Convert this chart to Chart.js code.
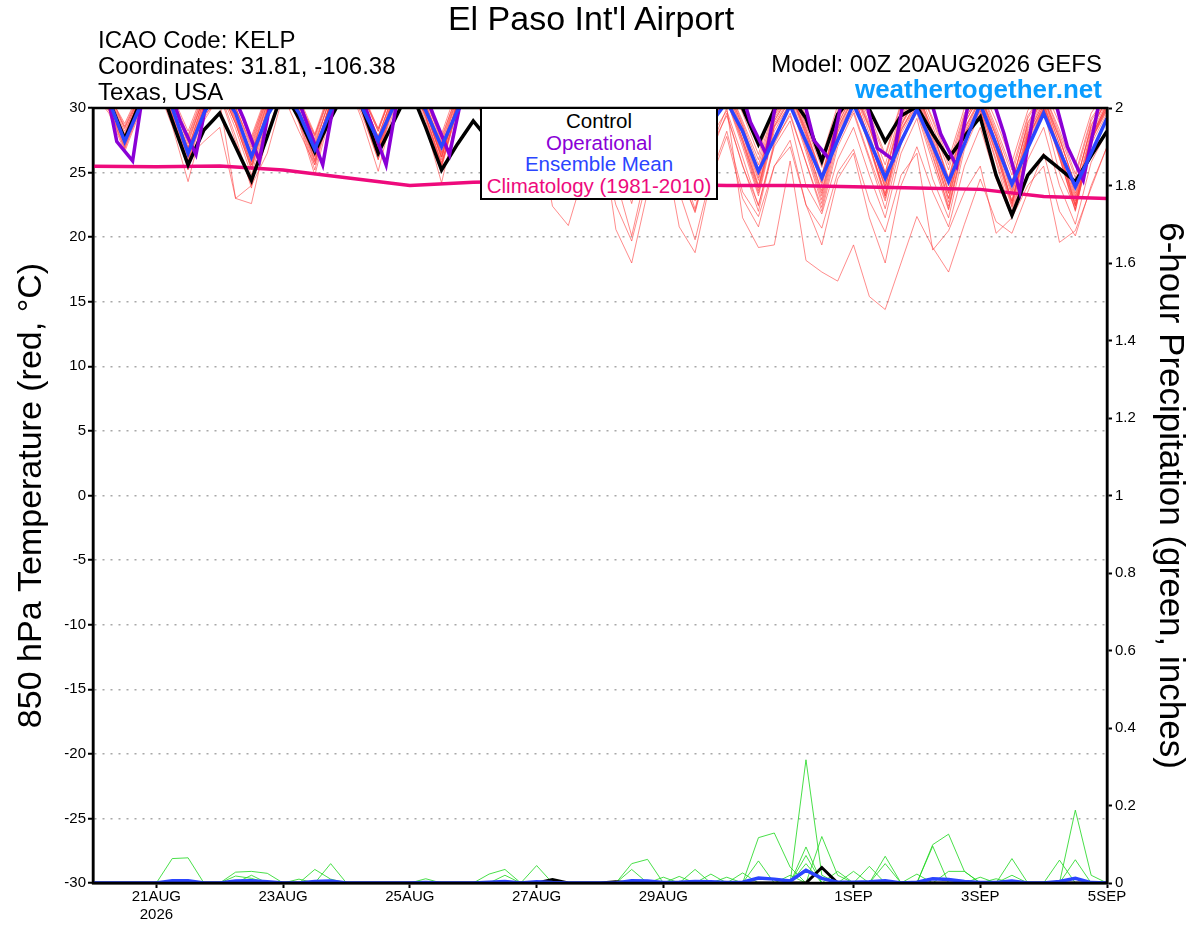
<!DOCTYPE html>
<html>
<head>
<meta charset="utf-8">
<script src="https://cdn.jsdelivr.net/npm/chart.js@4.4.1/dist/chart.umd.min.js"></script>
<style>
  html, body { margin: 0; padding: 0; background: #fff; }
  #wrap { position: relative; width: 1200px; height: 927px; overflow: hidden; font-family: "Liberation Sans", Arial, sans-serif; }
  #chart { position: absolute; left: 0; top: 0; }
  .txt { position: absolute; white-space: nowrap; line-height: 1; color: #000; }
  #legendBox { position: absolute; left: 480px; top: 107px; width: 234px; height: 88px; background: #fff;
    border: 2px solid #000; text-align: center; font-size: 20.5px; line-height: 21.5px; padding-top: 1px; }
</style>
</head>
<body>
<div id="wrap">
  <canvas id="chart" width="1200" height="927"></canvas>
  <div class="txt" style="left:0;width:1182px;text-align:center;top:1px;font-size:34px;">El Paso Int'l Airport</div>
  <div class="txt" style="left:98px;top:28px;font-size:24px;">ICAO Code: KELP</div>
  <div class="txt" style="left:98px;top:54px;font-size:24px;">Coordinates: 31.81, -106.38</div>
  <div class="txt" style="left:98px;top:80px;font-size:24px;">Texas, USA</div>
  <div class="txt" style="right:98px;top:52px;font-size:24px;">Model: 00Z 20AUG2026 GEFS</div>
  <div class="txt" style="right:98px;top:76px;font-size:26px;font-weight:bold;color:#0a9cff;">weathertogether.net</div>
  <div id="legendBox">
    <div style="color:#000">Control</div>
    <div style="color:#8a00d6">Operational</div>
    <div style="color:#2b45ff">Ensemble Mean</div>
    <div style="color:#ee0a7c">Climatology (1981-2010)</div>
  </div>
</div>
<script>
// time axis: hours after 00Z 20AUG2026, one point every 6 hours
const hours = Array.from({ length: 65 }, (_, i) => i * 6);
const opHours = hours.map(h => h + 3);
const climHours = Array.from({ length: 17 }, (_, i) => i * 24);

const tickHours = [24, 72, 120, 168, 216, 288, 336, 384];
const tickLabels = [['21AUG', '2026'], '23AUG', '25AUG', '27AUG', '29AUG', '1SEP', '3SEP', '5SEP'];

// 850 hPa temperature (C)
const control = [32, 30.6, 27.6, 30.5, 32.5, 29.0, 25.6, 28.3, 29.6, 27.0, 24.4, 27.8, 31.4,
  29.2, 26.6, 29.2, 31.5, 30.0, 26.5, 29.0, 31.5, 28.5, 25.2, 27.2, 29.0, 27.5,
  26.0, 28.6, 30.5, 29.0, 26.2, 29.2, 31.0, 28.8, 25.8, 29.0, 31.0, 29.4, 26.4,
  29.6, 31.2, 30.0, 27.2, 29.9, 31.0, 29.2, 25.9, 29.5, 31.0, 29.9, 27.4, 29.4,
  30.1, 28.0, 26.1, 27.8, 29.3, 24.8, 21.7, 24.8, 26.3, 25.3, 24.3, 26.3, 28.2];

const operational = [33.6, 27.4, 25.9, 34.0, 32.5, 29.0, 26.4, 32.5, 32.0, 29.2, 25.9, 32.4, 32.2,
  28.8, 25.6, 32.5, 32.4, 29.0, 25.6, 32.8, 32.6, 29.4, 26.4, 32.2, 32.0, 29.0,
  26.2, 32.0, 31.8, 28.6, 25.8, 31.8, 31.6, 28.6, 25.8, 31.6, 31.6, 28.8, 26.2,
  32.0, 33.0, 28.9, 26.4, 33.0, 32.4, 27.5, 26.0, 32.0, 32.0, 26.9, 26.0, 33.0,
  32.2, 28.0, 25.5, 32.0, 31.8, 28.0, 23.5, 30.5, 31.6, 27.0, 24.4, 30.4, 31.8];

const ensMean = [32.0, 30.6, 27.4, 30.2, 32.2, 30.0, 26.5, 29.6, 31.6, 29.6, 26.2, 29.4, 31.5,
  29.6, 26.8, 29.8, 31.8, 30.0, 27.5, 30.2, 31.8, 29.8, 27.0, 29.8, 31.4, 29.4,
  26.5, 29.4, 31.2, 29.0, 26.0, 29.0, 30.8, 28.6, 25.5, 28.8, 30.6, 28.6, 25.5,
  28.8, 30.5, 28.2, 25.1, 27.6, 30.2, 27.4, 24.6, 27.5, 30.3, 27.5, 24.6, 27.4,
  29.9, 27.1, 24.3, 27.2, 30.3, 27.2, 24.1, 26.9, 29.6, 26.7, 23.9, 26.5, 29.2];

const climatology = [25.5, 25.45, 25.5, 25.2, 24.6, 24.0, 24.25, 24.35, 24.2,
  24.1, 24.0, 24.0, 23.9, 23.8, 23.7, 23.15, 23.0];

const member01 = [32, 30.8, 28.5, 31, 33, 30.5, 27.8, 31, 32.5, 30, 27.2, 30.8, 32.8, 30.5, 27.9, 31.2,
  33, 31, 28.4, 31.5, 33.2, 30.8, 27.8, 31, 32.5, 30.2, 27.2, 30.8, 32.6, 30, 26.8, 30.5,
  32, 29.5, 26.4, 30.2, 32, 29.5, 26.5, 30.4, 31.8, 29, 26, 30, 31.5, 28.8, 25.8, 29.8,
  31.8, 29.2, 26.2, 30.2, 32, 29, 25.6, 29.6, 31.5, 28.5, 25.2, 29.4, 31.2, 28.3, 24.9, 29.2, 31];
const member02 = [31.8, 30.4, 27.2, 30.6, 32.4, 29.8, 26.4, 30.2, 32, 29.2, 25.8, 30, 32.2, 29.8, 26.6, 30.4,
  32.8, 30.4, 27.2, 31, 32.5, 30, 26.6, 30.4, 32, 29.4, 26, 30, 31.8, 29, 25.4, 29.6,
  31.5, 28.6, 25, 29.4, 31.6, 28.5, 24.8, 29.2, 31.2, 28, 24.4, 29, 31, 27.8, 24, 28.6,
  31.4, 28, 24.2, 29, 31, 27.6, 23.6, 28.4, 30.8, 27.4, 23.4, 28.2, 30.6, 27.2, 23.2, 28, 30.5];
const member03 = [31.5, 29.8, 26.8, 30, 31.8, 28.6, 24.3, 29, 31, 27.4, 24, 29.5, 32, 29, 25.2, 30,
  32.4, 29.6, 26, 30.6, 32.2, 29.2, 25.5, 30, 31.8, 28.6, 24.8, 29.6, 31.5, 28.2, 24.6, 29.4,
  31.2, 28, 24.2, 29.2, 31, 27.8, 24, 29, 30.8, 27.4, 23.6, 28.6, 30.6, 27, 23.2, 28.2,
  30.8, 27.2, 23.4, 28.4, 30.4, 26.8, 23, 28, 30.2, 26.6, 22.8, 27.8, 30, 26.4, 22.5, 27.6, 30];
const member04 = [31.6, 30, 27, 30.4, 32, 29.5, 26.2, 27.4, 28.5, 23, 22.6, 28, 31.8, 28.8, 24.8, 29.6,
  32.2, 29, 25.1, 30, 32, 28.6, 24.2, 29.6, 31.6, 28.2, 24.4, 29.4, 31.4, 28.4, 25, 29.5,
  31.6, 28.8, 25.2, 29.8, 31.4, 28.4, 24.6, 29.4, 31, 28, 24, 29, 31.2, 28, 24.4, 29.2,
  31, 27.6, 23.8, 28.8, 30.8, 27.4, 23.4, 28.4, 30.6, 27, 22.6, 28, 30.4, 26.8, 22.4, 27.8, 30.2];
const member05 = [32, 30.5, 27.8, 30.8, 32.5, 30, 27, 29.5, 30.5, 23.0, 24, 26.5, 31, 28.2, 25.6, 30.2,
  32.6, 30, 26.4, 30.8, 32.6, 29.8, 26, 30.6, 32.2, 29.4, 25.6, 30.2, 32, 29.4, 26, 30.4,
  32.2, 29.6, 26.2, 30.4, 31.8, 29, 25.6, 30, 31.6, 28.6, 25.2, 29.6, 31.4, 28.4, 24.8, 29.4,
  31.6, 28.6, 25, 29.6, 31.4, 28.2, 24.6, 29.2, 31, 27.8, 24.2, 28.8, 30.8, 27.6, 24, 28.6, 30.6];
const member06 = [32.2, 30.6, 27.6, 31, 32.6, 30.2, 26.8, 30.6, 32.4, 29.8, 26.4, 30.4, 32.6, 30, 26.4, 30.6,
  32.8, 30.4, 27.4, 31, 32.4, 29.8, 26.2, 30.2, 31.6, 28.6, 24.8, 29, 30.4, 27, 23.6, 27.6,
  29, 20.6, 18.0, 23.5, 27.5, 20.8, 18.8, 24.5, 27.8, 23, 20.8, 25.5, 27.5, 22.5, 19.4, 24.5,
  26.5, 21.5, 18.0, 24, 27, 23.5, 20.8, 25.5, 28.5, 24.5, 21.5, 26, 28.5, 24, 21, 25.8, 28.2];
const member07 = [31.4, 29.8, 27.4, 30.2, 32, 29.6, 26.6, 30.2, 31.8, 29, 25.6, 29.8, 32, 29.4, 26, 30.2,
  32.2, 29.8, 26.6, 30.4, 32.2, 29.4, 25.8, 30, 31.2, 28, 24, 28.5, 29, 22.4, 20.9, 25,
  27.6, 22.5, 19.7, 24.6, 28, 23.5, 19.8, 24.8, 28.2, 23.5, 21.6, 25.5, 27, 22.5, 20.7, 25,
  26.8, 22.8, 20.4, 24.8, 26.5, 19.0, 20.5, 23.5, 25.5, 20.3, 21.5, 24, 25.5, 19.6, 20.5, 23.8, 27];
const member08 = [31.8, 30.2, 27.2, 30.6, 32.4, 30, 26.8, 30.4, 32.2, 29.6, 26.4, 30.2, 32.4, 29.8, 26.6, 30.4,
  32.6, 30.2, 27, 30.8, 32.4, 29.8, 26.4, 30.2, 32, 29.2, 25.6, 29.8, 31.6, 28.6, 25, 29.2,
  31, 28, 24.4, 28.6, 30.4, 25, 22, 27, 30, 21.5, 19.2, 19.4, 25.9, 18.2, 17.3, 16.6,
  19.4, 15.4, 14.4, 18, 21.6, 19.2, 17.3, 21, 24.5, 21.2, 20.3, 23.5, 26.5, 22, 20.1, 24, 27];
const member09 = [32.4, 30.8, 28, 31.2, 32.8, 30.4, 27.4, 30.8, 32.6, 30, 26.8, 30.6, 32.8, 30.2, 27.2, 30.8,
  33, 30.6, 27.8, 31.2, 32.8, 30.2, 27, 30.6, 32.4, 29.4, 25.8, 29.6, 31.6, 28, 24.2, 28.5,
  30.6, 24.5, 20.1, 25.5, 29.5, 25, 21.9, 26.5, 29.6, 25.5, 22.5, 27, 29, 24, 21.8, 26,
  28.5, 24.8, 21.5, 26.5, 29.2, 24.5, 21.5, 26.8, 29.6, 24.8, 22, 27, 29.8, 25, 22.2, 27.2, 29.6];
const member10 = [32.5, 31, 28.8, 31.4, 33.2, 31, 28.2, 31.4, 33, 30.6, 27.8, 31.2, 33.2, 30.8, 28, 31.6,
  33.4, 31.2, 28.4, 31.8, 33.4, 31, 28, 31.5, 33, 30.6, 27.6, 31.2, 33, 30.4, 27.4, 31,
  32.8, 30.2, 27, 30.8, 32.6, 30, 26.8, 30.6, 32.4, 29.6, 26.4, 30.4, 32, 29.4, 26.2, 30.2,
  32.2, 29.6, 26.4, 30.4, 32, 29.2, 26, 30, 31.8, 29, 25.8, 29.8, 31.6, 28.8, 25.6, 29.6, 31.4];
const member11 = [31.2, 29.6, 26.6, 29.8, 31.6, 29, 25.6, 29.6, 31.4, 28.4, 24.8, 29.4, 31.8, 29, 25.6, 29.8,
  32, 29.4, 26, 30.2, 31.8, 29, 25.4, 29.8, 31.4, 28.4, 24.6, 29.2, 31, 27.8, 23.8, 28.8,
  30.6, 27.2, 23.2, 28.2, 30.2, 26.8, 22.8, 27.8, 29.8, 26.2, 22.4, 27.4, 29.4, 25.8, 22, 27,
  29.6, 26, 22.2, 27.2, 29.8, 26.2, 22.4, 27.4, 30, 26.4, 22.6, 27.6, 30.2, 26.6, 22.8, 27.8, 30];
const member12 = [32.6, 31.2, 28.4, 31.2, 32.2, 29.8, 26.2, 30, 31.6, 28.8, 25.2, 29.6, 32.4, 29.6, 26.2, 30.4,
  32.6, 30, 26.8, 30.6, 32.6, 29.8, 26.2, 30.4, 32.2, 29.4, 25.8, 30, 32, 29.2, 25.6, 29.8,
  31.8, 28.8, 25.4, 29.6, 31.6, 28.6, 25, 29.4, 31.4, 28.2, 24.6, 29.2, 31.2, 28, 24.2, 28.8,
  31, 27.6, 23.8, 28.6, 31.2, 27.8, 24, 28.8, 31, 27.4, 23.6, 28.4, 30.8, 27.2, 23.4, 28.2, 30.8];
const member13 = [31.9, 30.4, 27.9, 30.8, 32.8, 30.6, 27.6, 30.8, 32.8, 30.4, 27.4, 31, 33, 30.6, 27.6, 31.2,
  33.2, 31, 28.2, 31.6, 33, 30.6, 27.6, 31.2, 32.6, 30, 26.8, 30.6, 32.4, 29.8, 26.4, 30.4,
  32, 29.2, 25.6, 29.8, 31.2, 27.6, 23.4, 28.6, 30.6, 27, 23.2, 28.2, 30.4, 26.6, 22.6, 27.8,
  30.6, 27, 23, 28, 30.2, 26.4, 22.2, 27.6, 29.8, 25.8, 21.6, 27, 30, 26.2, 22, 27.4, 30.2];
const member14 = [32.1, 30.6, 27.5, 30.4, 32.2, 29.4, 25.2, 29.2, 31.2, 27.8, 23.8, 29.2, 32, 29.2, 25.8, 30,
  32.4, 29.8, 26.8, 30.6, 32.2, 29.4, 25.6, 30, 31.8, 29, 25.4, 29.8, 31.8, 29, 25.6, 29.8,
  31.4, 28.6, 24.8, 29.4, 31.2, 28, 24.2, 29, 31, 27.6, 23.8, 28.8, 30.8, 27.4, 23.4, 28.4,
  30.8, 27.2, 23.2, 28.2, 30.6, 27, 23, 28, 30.4, 26.8, 22.8, 27.8, 30.2, 26.6, 22.6, 27.6, 30.4];
const member15 = [32.3, 30.9, 28.2, 31, 32.6, 30, 26.9, 30.6, 32.2, 29.6, 26.6, 30.4, 32.6, 30.2, 27.4, 30.8,
  32.9, 30.6, 27.8, 31.2, 32.7, 30.2, 27.3, 30.8, 32.3, 29.8, 26.8, 30.4, 32.1, 29.4, 26.2, 30,
  31.8, 29, 25.8, 29.8, 31.6, 28.8, 25.4, 29.6, 31.4, 28.4, 25.0, 29.4, 31.2, 28.2, 24.8, 29,
  31.4, 28.4, 25, 29.2, 31.2, 28, 24.5, 28.8, 31, 27.8, 24.3, 28.6, 30.8, 27.6, 24.1, 28.4, 30.6];
const member16 = [31.7, 30.2, 27.3, 30.3, 32.1, 29.4, 25.9, 29.8, 31.6, 28.8, 25.4, 29.8, 32.2, 29.6, 26.3, 30.2,
  32.5, 30, 26.9, 30.8, 32.3, 29.6, 26.2, 30.2, 31.9, 29, 25.4, 29.8, 31.7, 28.8, 25.2, 29.6,
  31.4, 28.4, 24.6, 29.2, 31.1, 28, 24.4, 29, 30.9, 27.6, 23.9, 28.6, 30.7, 27.2, 23.6, 28.4,
  31, 27.6, 24, 28.6, 30.8, 27.2, 23.4, 28.2, 30.6, 27, 23.2, 28, 30.4, 26.8, 23, 27.8, 30.3];
const member17 = [32.6, 31.1, 28.6, 31.3, 33, 30.8, 27.9, 31.2, 32.8, 30.4, 27.6, 31, 33, 30.6, 27.8, 31.4,
  33.2, 31, 28.2, 31.6, 33, 30.6, 27.4, 31, 32.6, 30.2, 27, 30.8, 32.4, 29.8, 26.6, 30.6,
  32.2, 29.6, 26.4, 30.4, 32, 29.2, 26, 30.2, 31.8, 28.8, 25.6, 29.8, 31.6, 28.6, 25.4, 29.6,
  31.8, 28.8, 25.6, 29.8, 31.6, 28.6, 25.2, 29.4, 31.4, 28.2, 24.8, 29.2, 31.2, 28, 24.6, 29, 31];
const member18 = [31.9, 30.4, 27.7, 30.5, 32.3, 29.7, 26.1, 30, 31.9, 29.1, 25.6, 30, 32.3, 29.8, 26.8, 30.4,
  32.7, 30.2, 27.1, 30.9, 32.5, 29.9, 26.5, 30.3, 31.5, 28.4, 24.9, 29.2, 30.8, 27.4, 23.8, 28.4,
  30.2, 26.6, 22.6, 27.6, 29.6, 25.8, 22.2, 27, 29.4, 25.6, 22.0, 27.2, 29.6, 25.8, 22.3, 27.4,
  29.8, 26.2, 22.8, 27.6, 29.6, 25.8, 22.1, 27.2, 29.8, 26, 22.3, 27.4, 29.9, 26.1, 22.4, 27.5, 29.8];
const member19 = [32.2, 30.7, 27.8, 30.9, 32.9, 30.4, 27.2, 30.9, 32.6, 30.1, 27.0, 30.8, 32.9, 30.4, 27.0, 31,
  33.1, 30.8, 27.6, 31.3, 32.9, 30.4, 26.9, 30.9, 32.4, 29.8, 26.4, 30.5, 32.2, 29.6, 26.0, 30.2,
  32, 29.3, 25.6, 30, 31.8, 29, 25.2, 29.8, 31.6, 28.6, 24.8, 29.5, 31.3, 28.3, 24.5, 29.2,
  31.5, 28.5, 24.7, 29.4, 31.3, 28.2, 24.3, 29.1, 31.1, 28, 24, 28.9, 30.9, 27.8, 23.8, 28.7, 30.8];
const member20 = [31.3, 29.9, 26.9, 30.1, 31.9, 29.3, 25.8, 29.9, 31.7, 28.8, 25.3, 29.7, 32.1, 29.4, 25.9, 30.1,
  32.3, 29.7, 26.3, 30.4, 32.1, 29.3, 25.7, 30.1, 31.7, 28.8, 25.2, 29.7, 31.5, 28.6, 24.9, 29.5,
  31.3, 28.3, 24.6, 29.3, 31, 27.9, 24.3, 29.1, 30.6, 27.3, 23.4, 28.5, 30.3, 26.9, 22.9, 28.1,
  30.5, 27.1, 23.2, 28.3, 30.2, 26.7, 22.7, 27.9, 30, 26.5, 22.4, 27.7, 29.9, 26.3, 22.1, 27.5, 29.9];
const tempMembers = [member01, member02, member03, member04, member05, member06, member07,
  member08, member09, member10, member11, member12, member13, member14, member15, member16,
  member17, member18, member19, member20];

// 6-hour precipitation (inches)
const precipControl = [0, 0, 0, 0, 0, 0, 0, 0, 0, 0, 0, 0, 0,
  0, 0, 0, 0, 0, 0, 0, 0, 0, 0, 0, 0, 0,
  0, 0, 0, 0.009, 0, 0, 0, 0.003, 0, 0, 0, 0, 0,
  0, 0, 0, 0, 0, 0, 0, 0.04, 0, 0, 0, 0, 0,
  0, 0, 0, 0, 0, 0, 0, 0, 0, 0, 0, 0, 0];
const precipMean = [0, 0, 0, 0, 0, 0.006, 0.006, 0, 0, 0.005, 0.006, 0.003, 0,
  0, 0.004, 0.005, 0, 0, 0, 0, 0, 0.001, 0, 0, 0, 0.002,
  0.004, 0, 0.003, 0.001, 0, 0, 0, 0, 0.006, 0.005, 0.001, 0.002, 0.004,
  0.003, 0.001, 0.002, 0.013, 0.01, 0.005, 0.033, 0.012, 0.002, 0.002, 0.003, 0.006, 0,
  0.002, 0.011, 0.009, 0.004, 0.001, 0.001, 0.005, 0, 0, 0.004, 0.012, 0.001, 0];
const precip01 = [0, 0, 0, 0, 0, 0.063, 0.065, 0, 0, 0, 0, 0, 0,
  0, 0, 0, 0, 0, 0, 0, 0, 0, 0, 0, 0, 0,
  0, 0, 0, 0, 0, 0, 0, 0, 0, 0, 0, 0, 0,
  0, 0, 0, 0.117, 0.129, 0.041, 0, 0, 0, 0, 0, 0, 0,
  0, 0.099, 0.126, 0.03, 0, 0, 0, 0, 0, 0, 0, 0, 0];
const precip02 = [0, 0, 0, 0, 0, 0, 0, 0, 0, 0.028, 0.03, 0.025, 0,
  0, 0, 0, 0, 0, 0, 0, 0, 0, 0, 0, 0, 0,
  0, 0, 0, 0, 0, 0, 0, 0, 0, 0, 0, 0, 0,
  0, 0, 0, 0, 0, 0, 0.318, 0.02, 0, 0, 0, 0, 0,
  0, 0, 0, 0, 0, 0, 0, 0, 0, 0, 0.188, 0.02, 0];
const precip03 = [0, 0, 0, 0, 0, 0, 0, 0, 0, 0, 0, 0, 0,
  0, 0.035, 0.01, 0, 0, 0, 0, 0, 0, 0, 0, 0, 0,
  0, 0, 0, 0, 0, 0, 0, 0, 0.05, 0.061, 0, 0, 0,
  0, 0, 0, 0, 0, 0, 0, 0.12, 0.02, 0, 0, 0, 0,
  0, 0, 0, 0, 0, 0, 0.063, 0, 0, 0, 0, 0, 0];
const precip04 = [0, 0, 0, 0, 0, 0, 0, 0, 0, 0, 0, 0, 0,
  0, 0, 0.05, 0, 0, 0, 0, 0, 0, 0, 0, 0, 0,
  0, 0, 0.045, 0, 0, 0, 0, 0, 0, 0, 0, 0, 0,
  0, 0, 0, 0, 0, 0, 0.093, 0, 0, 0, 0, 0.069, 0,
  0, 0, 0, 0, 0, 0, 0, 0, 0, 0.059, 0, 0, 0];
const precip05 = [0, 0, 0, 0, 0, 0, 0, 0, 0, 0.018, 0.012, 0, 0,
  0, 0, 0, 0, 0, 0, 0, 0, 0, 0, 0, 0, 0.023,
  0.035, 0, 0, 0, 0, 0, 0, 0, 0, 0, 0, 0, 0,
  0, 0, 0, 0.057, 0, 0, 0, 0, 0, 0, 0.043, 0, 0,
  0, 0.095, 0, 0, 0, 0, 0, 0, 0, 0, 0, 0, 0];
const precip06 = [0, 0, 0, 0, 0, 0, 0, 0, 0, 0, 0, 0, 0,
  0, 0, 0, 0, 0, 0, 0, 0, 0.011, 0, 0, 0, 0,
  0, 0, 0, 0, 0, 0, 0, 0, 0, 0, 0, 0, 0.035,
  0, 0, 0, 0, 0, 0, 0.071, 0, 0, 0, 0, 0.05, 0,
  0, 0, 0, 0, 0.015, 0, 0, 0, 0, 0, 0, 0, 0];
const precip07 = [0, 0, 0, 0, 0, 0.006, 0, 0, 0, 0, 0, 0, 0,
  0, 0, 0, 0, 0, 0, 0, 0, 0, 0, 0, 0, 0,
  0, 0, 0, 0, 0, 0, 0, 0, 0, 0, 0, 0.017, 0,
  0.023, 0, 0, 0, 0, 0.02, 0, 0, 0, 0.03, 0, 0, 0,
  0, 0, 0.03, 0.03, 0, 0, 0, 0, 0, 0, 0, 0, 0];
const precip08 = [0, 0, 0, 0, 0, 0, 0, 0, 0, 0, 0, 0, 0,
  0, 0, 0, 0, 0, 0, 0, 0, 0, 0, 0, 0, 0,
  0.02, 0, 0, 0, 0, 0, 0, 0, 0.035, 0, 0, 0, 0,
  0, 0, 0.026, 0, 0, 0, 0.05, 0, 0, 0, 0, 0, 0,
  0.023, 0, 0, 0, 0, 0, 0, 0, 0, 0, 0.06, 0, 0];
const precip09 = [0, 0, 0, 0, 0, 0, 0, 0, 0, 0, 0.02, 0, 0,
  0, 0, 0, 0, 0, 0, 0, 0, 0, 0, 0, 0, 0,
  0, 0, 0, 0.01, 0, 0, 0, 0, 0, 0, 0, 0, 0,
  0, 0.015, 0, 0, 0, 0, 0, 0.04, 0, 0, 0, 0, 0,
  0, 0, 0, 0, 0, 0, 0.02, 0, 0, 0, 0, 0, 0];
const precip10 = [0, 0, 0, 0, 0, 0, 0, 0, 0, 0, 0, 0, 0,
  0.01, 0, 0, 0, 0, 0, 0, 0, 0, 0, 0, 0, 0,
  0, 0, 0, 0, 0, 0, 0, 0, 0, 0, 0.015, 0, 0,
  0, 0, 0, 0, 0, 0, 0, 0, 0.03, 0, 0, 0, 0,
  0, 0, 0, 0, 0, 0.011, 0, 0, 0, 0, 0, 0, 0];
const precipMembers = [precip01, precip02, precip03, precip04, precip05,
  precip06, precip07, precip08, precip09, precip10];

const font = '"Liberation Sans", Arial, Helvetica, sans-serif';
Chart.defaults.font.family = font;
Chart.defaults.color = '#000';

const pts = (xs, ys) => ys.map((y, i) => ({ x: xs[i], y: y }));

const datasets = [];
tempMembers.forEach(m => datasets.push({
  data: pts(hours, m), yAxisID: 'y', borderColor: 'rgba(255, 55, 55, 0.72)',
  borderWidth: 0.8, order: 10
}));
precipMembers.forEach(m => datasets.push({
  data: pts(hours, m), yAxisID: 'y2', borderColor: 'rgba(30, 215, 30, 0.9)',
  borderWidth: 0.9, order: 9
}));
datasets.push({ data: pts(climHours, climatology), yAxisID: 'y', borderColor: '#ee0a7c', borderWidth: 3.5, order: 4 });
datasets.push({ data: pts(hours, control), yAxisID: 'y', borderColor: '#000', borderWidth: 3.5, order: 3 });
datasets.push({ data: pts(opHours, operational), yAxisID: 'y', borderColor: '#8a00d6', borderWidth: 3.5, order: 2 });
datasets.push({ data: pts(hours, ensMean), yAxisID: 'y', borderColor: '#2b45ff', borderWidth: 3.5, order: 1 });
datasets.push({ data: pts(hours, precipControl), yAxisID: 'y2', borderColor: '#000', borderWidth: 3, order: 3 });
datasets.push({ data: pts(hours, precipMean), yAxisID: 'y2', borderColor: '#2b45ff', borderWidth: 3.5, order: 1 });

// thick frame round the plot area
const framePlugin = {
  id: 'frame',
  afterDraw(chart) {
    const { ctx, chartArea: a } = chart;
    ctx.save();
    ctx.strokeStyle = '#000';
    ctx.lineWidth = 2.5;
    ctx.strokeRect(a.left, a.top, a.right - a.left, a.bottom - a.top);
    ctx.restore();
  }
};

new Chart(document.getElementById('chart'), {
  type: 'line',
  data: { datasets: datasets },
  plugins: [framePlugin],
  options: {
    responsive: false,
    animation: false,
    clip: 0,
    layout: { padding: { top: 108, left: 0, right: 0, bottom: 0 } },
    elements: { point: { radius: 0 }, line: { tension: 0 } },
    plugins: { legend: { display: false }, tooltip: { enabled: false } },
    scales: {
      x: {
        type: 'linear', min: 0, max: 384,
        afterBuildTicks: s => { s.ticks = tickHours.map(v => ({ value: v })); },
        afterFit: s => { s.height = 44; },
        ticks: {
          autoSkip: false, maxRotation: 0, padding: 0,
          font: { size: 15 },
          callback: v => tickLabels[tickHours.indexOf(v)]
        },
        grid: { drawOnChartArea: false, tickLength: 5, tickColor: '#000', tickWidth: 2 },
        border: { color: '#000', width: 2.5 }
      },
      y: {
        position: 'left', min: -30, max: 30,
        afterFit: s => { s.width = 93; },
        ticks: { stepSize: 5, padding: 2, font: { size: 15 } },
        grid: { color: '#a8a8a8', lineWidth: 1.5, tickLength: 5, tickColor: '#000', tickWidth: 2 },
        border: { color: '#000', width: 2.5, dash: [2, 6] },
        title: {
          display: true, text: '850 hPa Temperature (red, \u00B0C)',
          font: { size: 34 }, padding: { top: 11, bottom: 0 }
        }
      },
      y2: {
        position: 'right', min: 0, max: 2,
        afterFit: s => { s.width = 93; },
        ticks: {
          stepSize: 0.2, padding: 3, font: { size: 15 },
          callback: v => String(Number(v.toFixed(1)))
        },
        grid: { drawOnChartArea: false, tickLength: 5, tickColor: '#000', tickWidth: 2 },
        border: { color: '#000', width: 2.5 },
        title: {
          display: true, text: '6-hour Precipitation (green, inches)',
          font: { size: 35 }, padding: { top: 9, bottom: 0 }
        }
      }
    }
  }
});
</script>
</body>
</html>
